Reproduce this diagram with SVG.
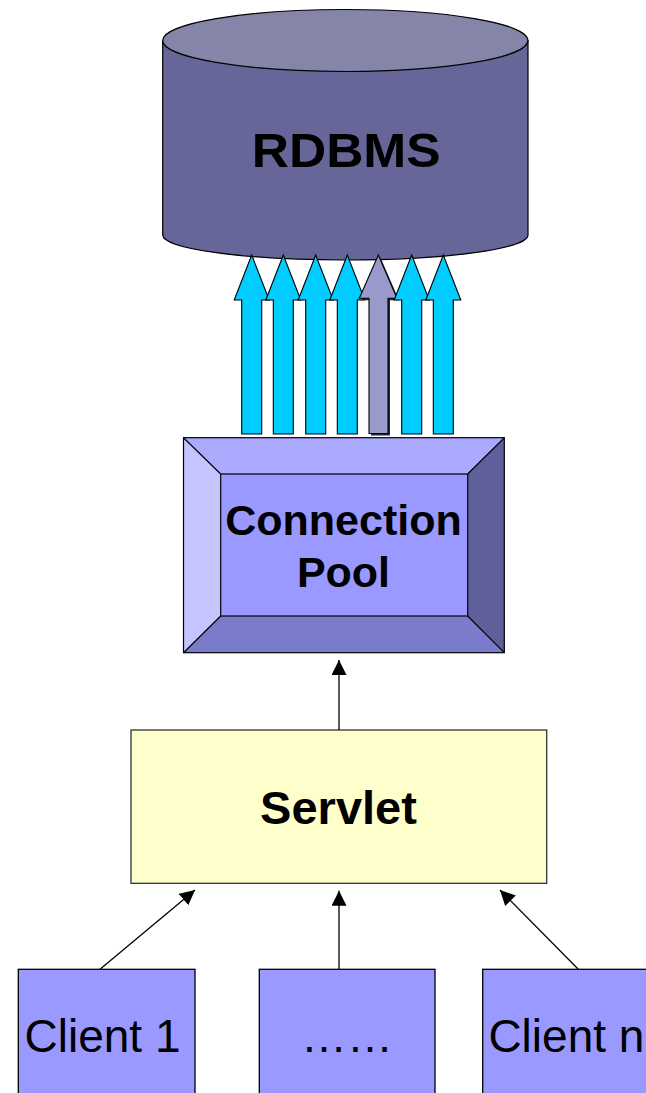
<svg xmlns="http://www.w3.org/2000/svg" width="646" height="1093" viewBox="0 0 646 1093">
  <style>
    .bold { font-family: "Liberation Sans", Arial, sans-serif; font-weight: bold; fill: #000; }
    .reg { font-family: "Liberation Sans", Arial, sans-serif; fill: #000; }
    .edge { stroke: #000; stroke-width: 1.2; }
    .flow { fill: #00CCFF; stroke: #000; stroke-width: 1.1; stroke-linejoin: miter; }
    .client { fill: #9999FF; stroke: #000; stroke-width: 1.3; }
    .link { stroke: #000; stroke-width: 1.3; fill: none; marker-end: url(#head); }
  </style>
  <defs>
    <marker id="head" markerUnits="userSpaceOnUse" markerWidth="16" markerHeight="16" refX="15" refY="7.5" orient="auto">
      <path d="M0,0 L15,7.5 L0,15 z" fill="#000"/>
    </marker>
  </defs>

  <rect width="646" height="1093" fill="#fff"/>

  <!-- database cylinder -->
  <g id="rdbms">
    <path d="M162.7,40.5 L162.7,235 A182.6,25 0 0 0 528,235 L528,40.5 Z" fill="#666699" class="edge"/>
    <ellipse cx="345.3" cy="40.5" rx="182.6" ry="31" fill="#8585AA" class="edge"/>
    <text class="bold" x="346.2" y="166.7" font-size="48" text-anchor="middle" textLength="189" lengthAdjust="spacingAndGlyphs">RDBMS</text>
  </g>

  <!-- pooled connections -->
  <g id="connections">
    <path class="flow" d="M241.7,434 L241.7,300 L234.2,300 L251.7,255 L269.2,300 L261.7,300 L261.7,434 Z"/>
    <path class="flow" d="M273.3,434 L273.3,300 L265.8,300 L283.3,255 L300.8,300 L293.3,300 L293.3,434 Z"/>
    <path class="flow" d="M305.7,434 L305.7,300 L298.2,300 L315.7,255 L333.2,300 L325.7,300 L325.7,434 Z"/>
    <path class="flow" d="M337.3,434 L337.3,300 L329.8,300 L347.3,255 L364.8,300 L357.3,300 L357.3,434 Z"/>
    <!-- connection currently in use -->
    <path d="M371,435.5 L371,300.3 L361.3,300.3 L380.3,257 L399,300.3 L390,300.3 L390,435.5 Z" fill="#1a2a33"/>
    <path d="M369,433.5 L369,298.3 L359.3,298.3 L378.3,255 L397,298.3 L388,298.3 L388,433.5 Z" fill="#9999CC" stroke="#000" stroke-width="1.1"/>
    <path class="flow" d="M401.7,434 L401.7,300 L394.2,300 L411.7,255 L429.2,300 L421.7,300 L421.7,434 Z"/>
    <path class="flow" d="M433.3,434 L433.3,300 L425.8,300 L443.3,255 L460.8,300 L453.3,300 L453.3,434 Z"/>
  </g>

  <!-- bevelled connection pool -->
  <g id="pool">
    <polygon points="183.5,437.7 504.3,437.7 467.7,474 220.7,474" fill="#AAAAFF"/>
    <polygon points="183.5,437.7 220.7,474 220.7,616 183.5,652.7" fill="#C4C4FF"/>
    <polygon points="504.3,437.7 504.3,652.7 467.7,616 467.7,474" fill="#5F5F99"/>
    <polygon points="183.5,652.7 220.7,616 467.7,616 504.3,652.7" fill="#7B7BCC"/>
    <rect x="220.7" y="474" width="247" height="142" fill="#9999FF" class="edge"/>
    <rect x="183.5" y="437.7" width="320.8" height="215" fill="none" class="edge"/>
    <path d="M183.5,437.7 L220.7,474 M504.3,437.7 L467.7,474 M183.5,652.7 L220.7,616 M504.3,652.7 L467.7,616" class="edge"/>
    <text class="bold" x="343.5" y="535" font-size="43" text-anchor="middle">Connection</text>
    <text class="bold" x="343.5" y="586.7" font-size="43" text-anchor="middle">Pool</text>
  </g>

  <g id="servlet">
    <rect x="131" y="730" width="415.7" height="153.3" fill="#FFFFCC" stroke="#333" stroke-width="1.3"/>
    <text class="bold" x="338.5" y="824" font-size="47" text-anchor="middle">Servlet</text>
  </g>

  <g id="client-1">
    <rect class="client" x="18.3" y="969.3" width="176.7" height="140"/>
    <text class="reg" x="24.5" y="1051.7" font-size="46">Client 1</text>
  </g>

  <g id="client-more">
    <rect class="client" x="259.3" y="969.3" width="175.7" height="140"/>
    <text class="reg" x="347" y="1051.7" font-size="46" text-anchor="middle">……</text>
  </g>

  <g id="client-n">
    <rect class="client" x="482.7" y="969.3" width="190" height="140"/>
    <text class="reg" x="488.4" y="1051.7" font-size="46">Client n</text>
  </g>

  <!-- request flow -->
  <g id="connectors">
    <line class="link" x1="339" y1="730" x2="339" y2="660"/>
    <line class="link" x1="100" y1="969.3" x2="195" y2="890"/>
    <line class="link" x1="339" y1="969.3" x2="339" y2="890.7"/>
    <line class="link" x1="578.3" y1="969.3" x2="500" y2="890"/>
  </g>
</svg>
